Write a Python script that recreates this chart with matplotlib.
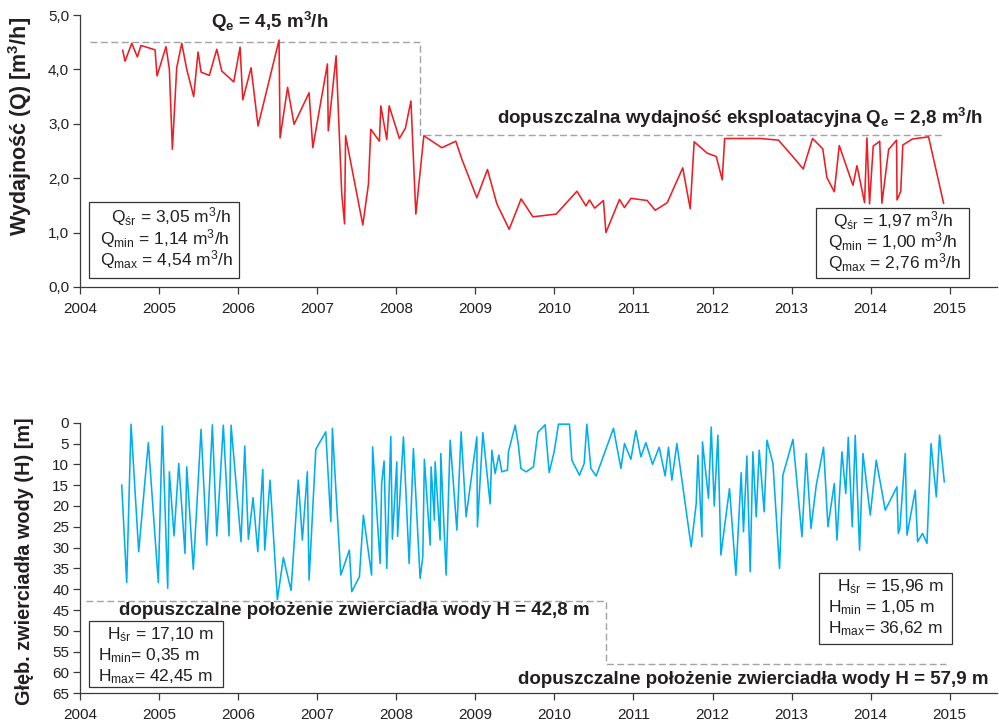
import matplotlib
matplotlib.use("Agg")
import matplotlib.pyplot as plt
from matplotlib.patches import Rectangle

plt.rcParams['font.family'] = ['Liberation Sans', 'DejaVu Sans']
plt.rcParams['mathtext.fontset'] = 'custom'
plt.rcParams['mathtext.default'] = 'regular'

# ---- discharge Q [m3/h] ----
q_years = [
    2004.537, 2004.566, 2004.651, 2004.722, 2004.768, 2004.946, 2004.971, 2005.085, 2005.127, 2005.165,
    2005.220, 2005.284, 2005.347, 2005.435, 2005.490, 2005.528, 2005.633, 2005.727, 2005.790, 2005.942,
    2006.022, 2006.056, 2006.161, 2006.249, 2006.515, 2006.528, 2006.623, 2006.705, 2006.895, 2006.942,
    2007.127, 2007.138, 2007.237, 2007.308, 2007.344, 2007.357, 2007.575, 2007.646, 2007.676, 2007.785,
    2007.803, 2007.878, 2007.908, 2008.038, 2008.114, 2008.184, 2008.246, 2008.347, 2008.575, 2008.752,
    2008.828, 2009.018, 2009.152, 2009.271, 2009.427, 2009.578, 2009.727, 2010.022, 2010.284, 2010.399,
    2010.443, 2010.509, 2010.620, 2010.651, 2010.823, 2010.886, 2010.968, 2011.173, 2011.275, 2011.427,
    2011.623, 2011.718, 2011.768, 2011.933, 2012.047, 2012.123, 2012.154, 2012.604, 2012.835, 2013.009,
    2013.148, 2013.266, 2013.395, 2013.448, 2013.541, 2013.604, 2013.777, 2013.828, 2013.924, 2013.954,
    2013.987, 2014.034, 2014.116, 2014.144, 2014.229, 2014.329, 2014.335, 2014.382, 2014.408, 2014.528,
    2014.734, 2014.924,
]
q_values = [
    4.35, 4.15, 4.48, 4.23, 4.44, 4.36, 3.88, 4.42, 4.00, 2.53,
    4.03, 4.48, 4.00, 3.50, 4.32, 3.95, 3.89, 4.37, 3.97, 3.77,
    4.41, 3.44, 4.03, 2.96, 4.54, 2.74, 3.67, 2.99, 3.57, 2.56,
    4.10, 2.87, 4.25, 1.72, 1.16, 2.78, 1.14, 1.89, 2.90, 2.68,
    3.33, 2.71, 3.33, 2.73, 2.92, 3.42, 1.34, 2.78, 2.56, 2.68,
    2.35, 1.64, 2.16, 1.53, 1.06, 1.62, 1.29, 1.34, 1.76, 1.49,
    1.60, 1.45, 1.59, 1.00, 1.61, 1.46, 1.63, 1.59, 1.41, 1.55,
    2.19, 1.44, 2.67, 2.46, 2.40, 1.97, 2.73, 2.73, 2.70, 2.41,
    2.17, 2.73, 2.54, 2.01, 1.75, 2.60, 1.87, 2.23, 1.55, 2.74,
    1.53, 2.59, 2.68, 1.54, 2.53, 2.70, 1.60, 1.76, 2.61, 2.72,
    2.76, 1.54,
]

# ---- depth to water table H [m] ----
h_years = [
    2004.524, 2004.587, 2004.642, 2004.739, 2004.861, 2004.987, 2005.038, 2005.106, 2005.127, 2005.186,
    2005.246, 2005.325, 2005.347, 2005.430, 2005.528, 2005.600, 2005.671, 2005.727, 2005.810, 2005.882,
    2005.908, 2006.034, 2006.081, 2006.127, 2006.186, 2006.246, 2006.309, 2006.334, 2006.401, 2006.494,
    2006.570, 2006.667, 2006.759, 2006.810, 2006.873, 2006.895, 2006.980, 2007.106, 2007.170, 2007.190,
    2007.296, 2007.405, 2007.435, 2007.532, 2007.582, 2007.686, 2007.699, 2007.794, 2007.813, 2007.844,
    2007.878, 2007.929, 2007.949, 2008.005, 2008.015, 2008.089, 2008.161, 2008.215, 2008.300, 2008.334,
    2008.354, 2008.427, 2008.439, 2008.481, 2008.490, 2008.553, 2008.562, 2008.629, 2008.680, 2008.765,
    2008.819, 2008.882, 2009.018, 2009.025, 2009.094, 2009.186, 2009.208, 2009.249, 2009.296, 2009.334,
    2009.405, 2009.418, 2009.503, 2009.544, 2009.575, 2009.642, 2009.734, 2009.790, 2009.882, 2009.933,
    2009.996, 2010.051, 2010.190, 2010.220, 2010.316, 2010.376, 2010.410, 2010.461, 2010.528, 2010.747,
    2010.841, 2010.886, 2010.967, 2011.030, 2011.094, 2011.157, 2011.241, 2011.325, 2011.401, 2011.443,
    2011.486, 2011.549, 2011.730, 2011.794, 2011.815, 2011.866, 2011.873, 2011.949, 2011.984, 2012.022,
    2012.068, 2012.106, 2012.215, 2012.296, 2012.363, 2012.392, 2012.435, 2012.477, 2012.511, 2012.553,
    2012.591, 2012.654, 2012.689, 2012.765, 2012.848, 2012.891, 2013.018, 2013.132, 2013.186, 2013.246,
    2013.313, 2013.405, 2013.461, 2013.541, 2013.575, 2013.638, 2013.686, 2013.718, 2013.768, 2013.806,
    2013.861, 2013.904, 2013.996, 2014.072, 2014.186, 2014.334, 2014.351, 2014.370, 2014.439, 2014.461,
    2014.566, 2014.595, 2014.658, 2014.714, 2014.765, 2014.832, 2014.873, 2014.933,
]
h_values = [
    15.0, 38.4, 0.35, 31.0, 4.8, 38.4, 0.8, 39.8, 11.8, 27.2,
    9.8, 31.4, 10.6, 35.2, 1.6, 29.4, 0.5, 27.2, 0.6, 27.2,
    0.6, 28.6, 5.6, 28.0, 18.0, 31.0, 11.2, 30.6, 13.8, 42.45,
    32.4, 40.3, 13.8, 28.2, 11.8, 37.8, 6.4, 2.2, 23.8, 1.35,
    36.6, 30.6, 40.6, 37.0, 22.2, 36.6, 5.8, 33.8, 14.6, 9.2,
    35.0, 3.3, 28.0, 9.4, 27.3, 3.4, 33.8, 6.2, 37.4, 32.2,
    8.8, 29.4, 10.6, 23.4, 9.4, 28.2, 7.4, 36.6, 4.2, 25.8,
    2.2, 22.6, 3.4, 25.0, 2.4, 19.5, 6.6, 12.2, 7.8, 11.8,
    11.4, 7.0, 0.6, 5.4, 11.0, 11.8, 10.6, 2.3, 0.5, 12.0,
    7.0, 0.35, 0.35, 9.0, 12.6, 9.8, 0.35, 11.0, 12.8, 1.35,
    11.0, 5.0, 8.8, 1.9, 8.2, 4.8, 10.0, 5.9, 12.8, 5.9,
    13.8, 5.0, 29.8, 19.4, 7.8, 27.4, 4.6, 18.2, 1.05, 20.0,
    3.0, 31.8, 15.8, 36.62, 12.0, 26.2, 8.0, 35.8, 7.0, 22.6,
    6.6, 21.4, 4.2, 9.8, 35.0, 12.6, 4.0, 27.4, 7.4, 25.4,
    15.0, 5.9, 25.0, 14.6, 28.2, 7.0, 17.0, 3.5, 25.0, 3.0,
    30.6, 7.4, 22.2, 9.0, 21.0, 15.4, 26.6, 25.5, 7.4, 27.0,
    16.2, 28.6, 26.6, 29.0, 5.0, 17.8, 3.0, 14.2,
]

# permitted limits
q_limit_years = [2004.12, 2008.30, 2008.30, 2014.93]
q_limit_values = [4.5, 4.5, 2.8, 2.8]
h_limit_years = [2004.07, 2010.65, 2010.65, 2014.95]
h_limit_values = [42.8, 42.8, 57.9, 57.9]

year_ticks = list(range(2004, 2016))
q_ticks = [0, 1, 2, 3, 4, 5]
h_ticks = list(range(0, 66, 5))

TXT = '#231f20'
AXC = '#3a3a3a'
RED = '#ee1d23'
BLUE = '#00aeef'
DASH = '#a3a3a3'

W, H = 999, 724
fig = plt.figure(figsize=(W / 100, H / 100), dpi=100)


def fx(x):
    return x / W


def fy(y):
    return 1 - y / H


ax1 = fig.add_axes([fx(80.3), fy(287), (997 - 80.3) / W, (287 - 15) / H])
ax2 = fig.add_axes([fx(80.3), fy(693.3), (997 - 80.3) / W, (693.3 - 422.7) / H])

for ax in (ax1, ax2):
    ax.set_xlim(2004, 2015.6)
    ax.set_xticks(year_ticks)
    ax.set_xticklabels([str(y) for y in year_ticks])
    for s in ('top', 'right'):
        ax.spines[s].set_visible(False)
    for s in ('left', 'bottom'):
        ax.spines[s].set_color(AXC)
        ax.spines[s].set_linewidth(0.9)
    ax.tick_params(direction='out', length=5, width=0.9, color=AXC,
                   labelsize=11, labelcolor=TXT, pad=3)
    ax.tick_params(axis='x', pad=5.5)

ax1.set_ylim(0, 5)
ax1.set_yticks(q_ticks)
ax1.set_yticklabels([f"{v:.1f}".replace('.', ',') for v in q_ticks])
ax2.set_ylim(65, 0)
ax2.set_yticks(h_ticks)
ax2.set_yticklabels([str(v) for v in h_ticks])

ax1.plot(q_limit_years, q_limit_values, color=DASH, lw=1.0, dashes=(5, 2.5))
ax1.plot(q_years, q_values, color=RED, lw=1.15)
ax2.plot(h_limit_years, h_limit_values, color=DASH, lw=1.0, dashes=(5, 2.5))
ax2.plot(h_years, h_values, color=BLUE, lw=1.15)

# axis titles
fig.text(fx(20), fy(126), "Wydajność (Q) [m$^{3}$/h]", rotation=90, ha='center',
         va='center', fontsize=15.5, fontweight='bold', color=TXT)
fig.text(fx(25), fy(561), "Głęb. zwierciadła wody (H) [m]", rotation=90, ha='center',
         va='center', fontsize=14.3, fontweight='bold', color=TXT)

# limit labels
bold = dict(fontsize=13.5, fontweight='bold', color=TXT, va='baseline')
fig.text(fx(270), fy(28), "Q$_{e}$ = 4,5 m$^{3}$/h", ha='center', **bold)
fig.text(fx(983), fy(124.5), "dopuszczalna wydajność eksploatacyjna Q$_{e}$ = 2,8 m$^{3}$/h",
         ha='right', **bold)
fig.text(fx(119), fy(615), "dopuszczalne położenie zwierciadła wody H = 42,8 m", ha='left', **bold)
fig.text(fx(988), fy(683.5), "dopuszczalne położenie zwierciadła wody H = 57,9 m", ha='right', **bold)


# statistics boxes
def stat_box(x0, y0, x1, y1, lines):
    fig.add_artist(Rectangle((fx(x0), fy(y1)), (x1 - x0) / W, (y1 - y0) / H,
                             transform=fig.transFigure, facecolor='white',
                             edgecolor='#333333', lw=0.9, zorder=2))
    for x, y, s in lines:
        fig.text(fx(x), fy(y), s, ha='left', va='baseline', fontsize=12.5,
                 color=TXT, zorder=3)


stat_box(89.3, 201.7, 239.3, 277.7, [
    (110.7, 222, "Q$_{śr}$ = 3,05 m$^{3}$/h"),
    (100, 244, "Q$_{min}$ = 1,14 m$^{3}$/h"),
    (100, 265, "Q$_{max}$ = 4,54 m$^{3}$/h"),
])
stat_box(816, 208.3, 969.3, 277.7, [
    (832.7, 226, "Q$_{śr}$ = 1,97 m$^{3}$/h"),
    (827.7, 247.5, "Q$_{min}$ = 1,00 m$^{3}$/h"),
    (827.7, 268.5, "Q$_{max}$ = 2,76 m$^{3}$/h"),
])
stat_box(89.3, 620.7, 222.7, 687.3, [
    (107, 639.5, "H$_{śr}$ = 17,10 m"),
    (98, 660.5, "H$_{min}$= 0,35 m"),
    (98, 681.5, "H$_{max}$= 42,45 m"),
])
stat_box(819, 573.3, 952.3, 644.3, [
    (837, 591, "H$_{śr}$ = 15,96 m"),
    (828.3, 612.3, "H$_{min}$ = 1,05 m"),
    (828.3, 633.3, "H$_{max}$= 36,62 m"),
])

fig.savefig("out.png", dpi=100)
